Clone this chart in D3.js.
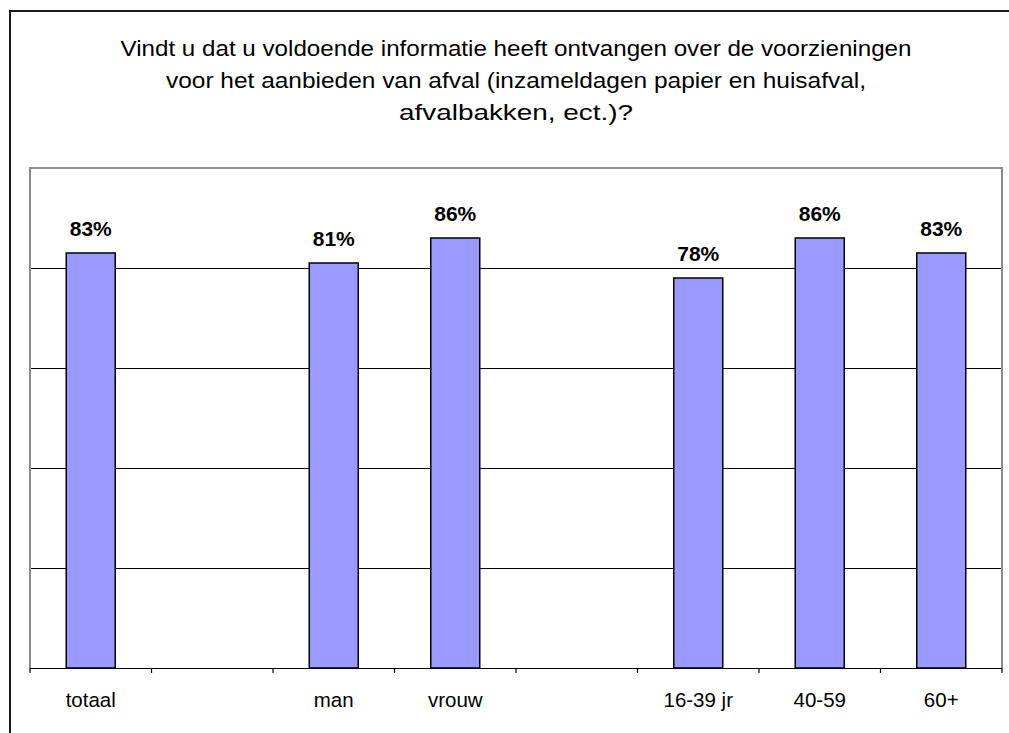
<!DOCTYPE html>
<html>
<head>
<meta charset="utf-8">
<script src="https://cdn.jsdelivr.net/npm/d3@7"></script>
<style>
  html, body { margin: 0; padding: 0; background: #fff; }
  svg { display: block; font-family: "Liberation Sans", Arial, sans-serif; }
</style>
</head>
<body>
<svg id="chart" width="1009" height="733"></svg>
<script>
// Survey question and its answers (share of "yes", in percent)
const titleLines = [
  "Vindt u dat u voldoende informatie heeft ontvangen over de voorzieningen",
  "voor het aanbieden van afval (inzameldagen papier en huisafval,",
  "afvalbakken, ect.)?"
];
const categories = ["totaal", "gap1", "man", "vrouw", "gap2", "16-39 jr", "40-59", "60+"];
const categoryLabels = ["totaal", "", "man", "vrouw", "", "16-39 jr", "40-59", "60+"];
const values = [83, null, 81, 86, null, 78, 86, 83];
const gridValues = [20, 40, 60, 80];

const svg = d3.select("#chart");

// outer frame
svg.append("rect")
  .attr("x", 10).attr("y", 11)
  .attr("width", 1020).attr("height", 760)
  .attr("fill", "none").attr("stroke", "#1a1a1a").attr("stroke-width", 2);

const plot = { left: 30, right: 1002, top: 168, bottom: 668 };

const x = d3.scaleBand().domain(categories).range([plot.left, plot.right]).paddingInner(0).paddingOuter(0);
const y = d3.scaleLinear().domain([0, 100]).range([plot.bottom, plot.top]);

// title
const titleWidths = [791, 700, 234];
svg.append("g").selectAll("text").data(titleLines).join("text")
  .attr("x", (plot.left + plot.right) / 2)
  .attr("y", (d, i) => 56 + i * 32)
  .attr("text-anchor", "middle")
  .attr("font-size", 22)
  .attr("fill", "#000")
  .attr("textLength", (d, i) => titleWidths[i])
  .attr("lengthAdjust", "spacingAndGlyphs")
  .text(d => d);

// plot frame (top, left, right in grey)
svg.append("path")
  .attr("d", `M${plot.left},${plot.bottom}V${plot.top}H${plot.right}V${plot.bottom}`)
  .attr("fill", "none").attr("stroke", "#8c8c8c").attr("stroke-width", 2);

// gridlines
svg.append("g").selectAll("line").data(gridValues).join("line")
  .attr("x1", plot.left + 1).attr("x2", plot.right - 1)
  .attr("y1", d => Math.round(y(d)) + 0.5).attr("y2", d => Math.round(y(d)) + 0.5)
  .attr("stroke", "#000").attr("stroke-width", 1);

// bars
const barW = 49;
const barData = categories.map((c, i) => ({ c, v: values[i] })).filter(d => d.v !== null);
svg.append("g").selectAll("rect").data(barData).join("rect")
  .attr("x", d => x(d.c) + x.bandwidth() / 2 - barW / 2)
  .attr("y", d => y(d.v))
  .attr("width", barW)
  .attr("height", d => y(0) - y(d.v))
  .attr("fill", "#9999ff")
  .attr("stroke", "#000").attr("stroke-width", 1.5);

// value labels
svg.append("g").selectAll("text").data(barData).join("text")
  .attr("x", d => x(d.c) + x.bandwidth() / 2)
  .attr("y", d => y(d.v) - 17)
  .attr("text-anchor", "middle")
  .attr("font-size", 21).attr("font-weight", "bold")
  .text(d => d.v + "%");

// x axis: baseline, ticks at category boundaries, labels
const axis = svg.append("g");
axis.append("line")
  .attr("x1", plot.left).attr("x2", plot.right)
  .attr("y1", plot.bottom + 0.5).attr("y2", plot.bottom + 0.5)
  .attr("stroke", "#000").attr("stroke-width", 1.2);
const boundaries = categories.map(c => x(c)).concat([plot.right]);
axis.selectAll("line.tick").data(boundaries).join("line")
  .attr("class", "tick")
  .attr("x1", d => d).attr("x2", d => d)
  .attr("y1", plot.bottom).attr("y2", plot.bottom + 5)
  .attr("stroke", "#000").attr("stroke-width", 1.2);
axis.selectAll("text").data(categories).join("text")
  .attr("x", d => x(d) + x.bandwidth() / 2)
  .attr("y", 707)
  .attr("text-anchor", "middle")
  .attr("font-size", 20.5)
  .text((d, i) => categoryLabels[i]);
</script>
</body>
</html>
